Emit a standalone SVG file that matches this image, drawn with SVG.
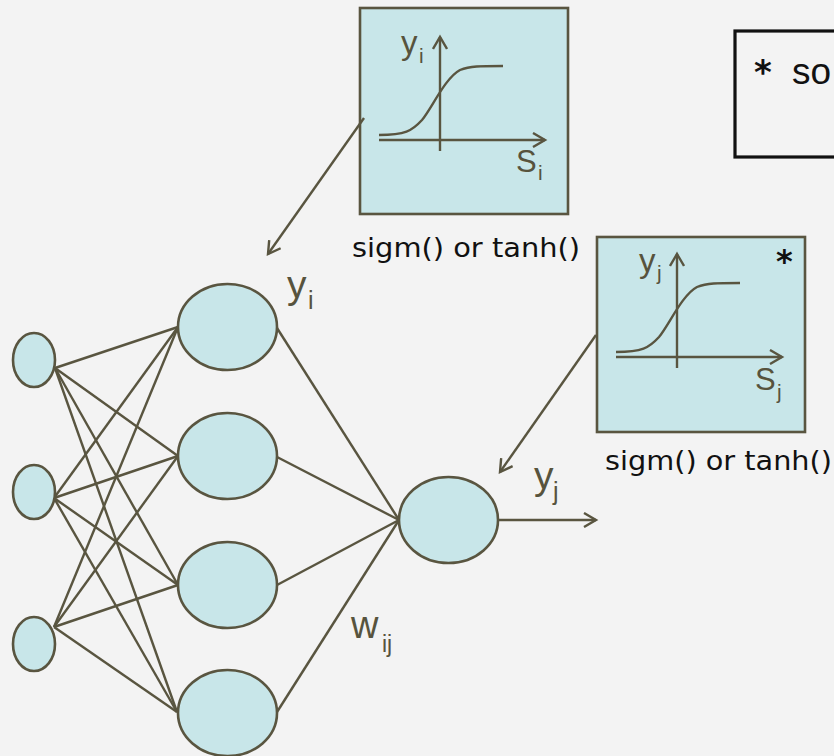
<svg xmlns="http://www.w3.org/2000/svg" xmlns:xlink="http://www.w3.org/1999/xlink" width="834" height="756" viewBox="0 0 834 756">
<style>
.node{fill:#c8e6e9;stroke:#595540;stroke-width:2.6}
.ln{stroke:#595540;stroke-width:2.4;fill:none}
.lbl{font-family:"Liberation Sans","DejaVu Sans",sans-serif;fill:#57533d}
.cap{font-family:"DejaVu Sans","Liberation Sans",sans-serif;fill:#111;font-size:27px}
.star{font-family:"DejaVu Sans",sans-serif;fill:#111;font-weight:bold}
</style>
<defs>
<marker id="arr" markerWidth="16" markerHeight="16" refX="13" refY="8" orient="auto" markerUnits="userSpaceOnUse">
<path d="M1,1 L13,8 L1,15" fill="none" stroke="#595540" stroke-width="2.4"/>
</marker>
<g id="plot">
<line class="ln" x1="379" y1="140" x2="545" y2="140" marker-end="url(#arr)"/>
<line class="ln" x1="440" y1="151" x2="440" y2="37" marker-end="url(#arr)"/>
<path class="ln" d="M379,135 C405,135 412,131 422,120 C432,108 445,78 460,70 C470,66 480,66 503,66"/>
</g>
</defs>
<rect width="834" height="756" fill="#f3f3f3"/>

<g id="box-i">
<rect x="360" y="8" width="208" height="206" fill="#c8e6e9" stroke="#595540" stroke-width="2.6"/>
<use xlink:href="#plot"/>
<text class="lbl" x="401" y="54" font-size="33">y</text>
<text class="lbl" x="419" y="63" font-size="21">i</text>
<text class="lbl" x="516" y="172" font-size="31">S</text>
<text class="lbl" x="538" y="180" font-size="21">i</text>
<text class="cap" x="352" y="257" textLength="228" lengthAdjust="spacingAndGlyphs">sigm() or tanh()</text>
</g>

<g id="box-j">
<rect x="597" y="237" width="208" height="195" fill="#c8e6e9" stroke="#595540" stroke-width="2.6"/>
<use xlink:href="#plot" transform="translate(237,217)"/>
<text class="lbl" x="639" y="272" font-size="33">y</text>
<text class="lbl" x="657" y="280" font-size="21">j</text>
<text class="lbl" x="755" y="390" font-size="31">S</text>
<text class="lbl" x="777" y="399" font-size="21">j</text>
<text class="star" x="776" y="272" font-size="32">*</text>
<text class="cap" x="605" y="470" textLength="227" lengthAdjust="spacingAndGlyphs">sigm() or tanh()</text>
</g>

<g id="note">
<rect x="735" y="31" width="110" height="126" fill="none" stroke="#111" stroke-width="3.2"/>
<text class="star" x="754" y="84" font-size="34">*</text>
<text x="792" y="84" font-family="Liberation Sans,DejaVu Sans,sans-serif" font-size="37" fill="#111">so</text>
</g>

<g id="connectors">
<line class="ln" x1="55" y1="368" x2="178" y2="327"/>
<line class="ln" x1="55" y1="368" x2="178" y2="456"/>
<line class="ln" x1="55" y1="368" x2="178" y2="585"/>
<line class="ln" x1="55" y1="368" x2="177" y2="712"/>
<line class="ln" x1="54" y1="498" x2="178" y2="327"/>
<line class="ln" x1="54" y1="498" x2="178" y2="456"/>
<line class="ln" x1="54" y1="498" x2="178" y2="585"/>
<line class="ln" x1="54" y1="498" x2="177" y2="712"/>
<line class="ln" x1="54" y1="627" x2="178" y2="327"/>
<line class="ln" x1="54" y1="627" x2="178" y2="456"/>
<line class="ln" x1="54" y1="627" x2="178" y2="585"/>
<line class="ln" x1="54" y1="627" x2="177" y2="712"/>
<line class="ln" x1="277" y1="328" x2="399" y2="520"/>
<line class="ln" x1="277" y1="457" x2="399" y2="520"/>
<line class="ln" x1="277" y1="585" x2="399" y2="520"/>
<line class="ln" x1="277" y1="712" x2="399" y2="520"/>
<line class="ln" x1="498" y1="520" x2="596" y2="520" marker-end="url(#arr)"/>
<line class="ln" x1="364" y1="118" x2="268" y2="254" marker-end="url(#arr)"/>
<line class="ln" x1="596" y1="335" x2="500" y2="472" marker-end="url(#arr)"/>
</g>

<g id="in1"><ellipse class="node" cx="34" cy="360" rx="21" ry="27"/></g>
<g id="in2"><ellipse class="node" cx="34" cy="492" rx="21" ry="27"/></g>
<g id="in3"><ellipse class="node" cx="34" cy="644" rx="21" ry="27"/></g>
<g id="h1"><ellipse class="node" cx="227.5" cy="327" rx="49.5" ry="43"/></g>
<g id="h2"><ellipse class="node" cx="227.5" cy="456" rx="49.5" ry="43"/></g>
<g id="h3"><ellipse class="node" cx="227.5" cy="585" rx="49.5" ry="43"/></g>
<g id="h4"><ellipse class="node" cx="227.5" cy="713" rx="49.5" ry="43"/></g>
<g id="out"><ellipse class="node" cx="448.5" cy="520" rx="49.5" ry="43"/></g>

<g id="labels">
<text class="lbl" x="287" y="298" font-size="39">y</text>
<text class="lbl" x="308" y="309" font-size="25">i</text>
<text class="lbl" x="534" y="489" font-size="39">y</text>
<text class="lbl" x="553" y="500" font-size="25">j</text>
<text class="lbl" x="351" y="638" font-size="38">w</text>
<text class="lbl" x="382" y="652" font-size="23">ij</text>
</g>
</svg>
